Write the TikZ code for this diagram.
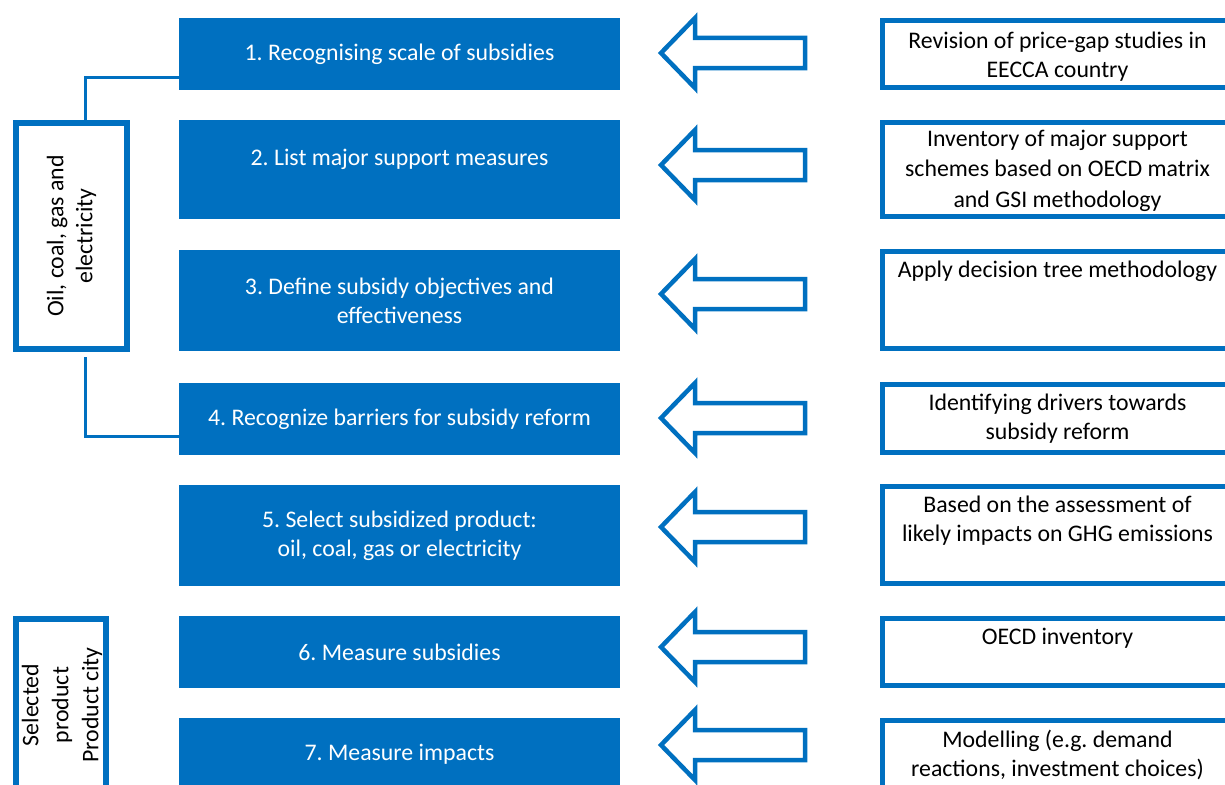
\documentclass[tikz,border=0pt]{standalone}
\usepackage{fontspec}
\setmainfont{Carlito}
\frenchspacing
\definecolor{oblue}{HTML}{0070C0}
\begin{document}
\begin{tikzpicture}[x=1pt,y=-1pt,
  txt/.style={font=\fontsize{23.8}{29}\selectfont},
  stepbox/.style={txt, fill=oblue, text=white, align=center, minimum width=441pt, inner sep=0pt},
  infobox/.style={draw=oblue, line width=5pt, minimum width=350pt, inner sep=0pt, outer sep=0pt, anchor=north west},
  infotext/.style={txt, align=center, anchor=north, inner sep=0pt},
  sidebox/.style={draw=oblue, line width=6pt, inner sep=0pt, outer sep=0pt, anchor=north west},
  link/.style={draw=oblue, line width=3pt},
  blockarrow/.style={draw=oblue, line width=4.5pt, line join=miter, fill=white}
]
\useasboundingbox (0,0) rectangle (1225,784);

% step boxes
\node[stepbox, minimum height=72pt]  (s1) at (399.5,54)    {1. Recognising scale of subsidies};
\node[stepbox, minimum height=99pt, text depth=24pt]  (s2) at (399.5,169.5) {2. List major support measures};
\node[stepbox, minimum height=101pt] (s3) at (399.5,300.5) {3. Define subsidy objectives and\\effectiveness};
\node[stepbox, minimum height=72pt]  (s4) at (399.5,419)   {4. Recognize barriers for subsidy reform};
\node[stepbox, minimum height=101pt] (s5) at (399.5,535.5) {5. Select subsidized product:\\oil, coal, gas or electricity};
\node[stepbox, minimum height=72pt]  (s6) at (399.5,652)   {6. Measure subsidies};
\node[stepbox, minimum height=72pt]  (s7) at (399.5,754)   {7. Measure impacts};

% info boxes
\node[infobox, minimum height=67pt]  (r1) at (882.5,20.5)  {};
\node[infobox, minimum height=94pt]  (r2) at (882.5,122.5) {};
\node[infobox, minimum height=97pt]  (r3) at (882.5,251.5) {};
\node[infobox, minimum height=68pt]  (r4) at (882.5,384.5) {};
\node[infobox, minimum height=97pt]  (r5) at (882.5,486.5) {};
\node[infobox, minimum height=67pt]  (r6) at (882.5,618.5) {};
\node[infobox, minimum height=90pt]  (r7) at (882.5,720.5) {};

\node[infotext] (t1) at ([yshift=-11pt]r1.north) {Revision of price-gap studies in\\EECCA country};
\node[infotext, font=\fontsize{23.8}{30.5}\selectfont] (t2) at ([yshift=-7pt]r2.north) {Inventory of major support\\schemes based on OECD matrix\\and GSI methodology};
\node[infotext] (t3) at ([yshift=-9pt]r3.north) {Apply decision tree methodology};
\node[infotext] (t4) at ([yshift=-9pt]r4.north) {Identifying drivers towards\\subsidy reform};
\node[infotext] (t5) at ([yshift=-9pt]r5.north) {Based on the assessment of\\likely impacts on GHG emissions};
\node[infotext] (t6) at ([yshift=-9pt]r6.north) {OECD inventory};
\node[infotext] (t7) at ([yshift=-9pt]r7.north) {Modelling (e.g. demand\\reactions, investment choices)};

% block arrows
\foreach \cy in {53,165,294,418,527,647,745} {
  \draw[blockarrow] (661,\cy) -- (695,\cy-35) -- (695,\cy-15) -- (805,\cy-15)
     -- (805,\cy+15) -- (695,\cy+15) -- (695,\cy+35) -- cycle;
}

% side boxes
\node[sidebox, minimum width=111pt, minimum height=226pt] (lb1) at (16,123) {};
\node[txt, rotate=90, align=center] (lt1) at (lb1.center) {Oil, coal, gas and\\electricity};
\node[sidebox, minimum width=90pt, minimum height=200pt] (lb2) at (16,619) {};
\node[txt, rotate=90, align=center, font=\fontsize{23.8}{30}\selectfont] (lt2) at (62,705) {Selected\\product\\Product city};

% links
\coordinate (k1) at (85,77);
\coordinate (k2) at (85,436);
\draw[link] ([yshift=3pt]lb1.north -| k1) |- (s1.west |- k1);
\draw[link] ([yshift=-8pt]lb1.south -| k2) |- (s4.west |- k2);
\end{tikzpicture}
\end{document}
